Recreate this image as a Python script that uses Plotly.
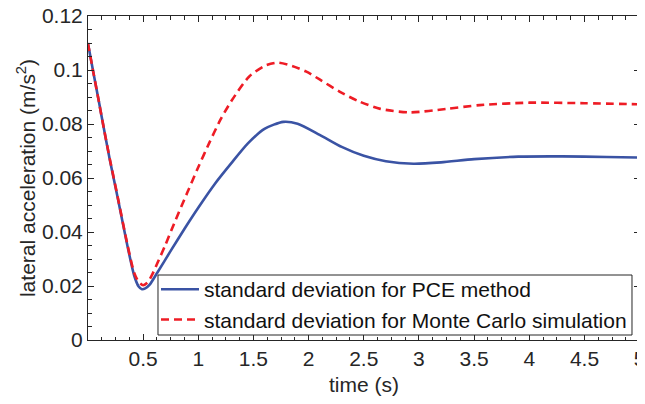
import plotly.graph_objects as go

# time (s)
t_pce = [0, 0.05, 0.1, 0.15, 0.2, 0.27, 0.36, 0.42, 0.46, 0.49, 0.52, 0.56, 0.63,
         0.75, 0.88, 1.0, 1.15, 1.3, 1.45, 1.6, 1.77, 1.9, 2.1, 2.3, 2.5, 2.7,
         2.95, 3.2, 3.5, 3.9, 4.3, 4.7, 5.0]
std_pce = [0.110, 0.0990, 0.0882, 0.0772, 0.0665, 0.0527, 0.0345, 0.0238, 0.0198,
           0.0188, 0.0191, 0.0205, 0.0250, 0.0330, 0.0415, 0.0490, 0.0578, 0.0655,
           0.0728, 0.0782, 0.0808, 0.0801, 0.0760, 0.0715, 0.0682, 0.0662, 0.0653,
           0.0658, 0.0670, 0.0679, 0.0680, 0.0678, 0.0676]

t_mc = [0, 0.05, 0.1, 0.15, 0.2, 0.27, 0.36, 0.42, 0.46, 0.50, 0.54, 0.58, 0.63,
        0.7, 0.78, 0.9, 1.0, 1.1, 1.2, 1.3, 1.46, 1.6, 1.72, 1.85, 1.98, 2.1, 2.28,
        2.45, 2.65, 2.92, 3.25, 3.55, 4.0, 4.5, 5.0]
std_mc = [0.110, 0.0990, 0.0882, 0.0772, 0.0668, 0.0530, 0.0350, 0.0248, 0.0215,
          0.0203, 0.0213, 0.0240, 0.0285, 0.0350, 0.0430, 0.0545, 0.0640, 0.0730,
          0.0815, 0.0885, 0.0975, 0.1015, 0.1027, 0.1015, 0.0994, 0.0965, 0.0920,
          0.0885, 0.0856, 0.0843, 0.0856, 0.0870, 0.0879, 0.0877, 0.0873]

x_ticks = [0.5, 1, 1.5, 2, 2.5, 3, 3.5, 4, 4.5, 5]
x_ticklabels = ["0.5", "1", "1.5", "2", "2.5", "3", "3.5", "4", "4.5", "5"]
y_ticks = [0, 0.02, 0.04, 0.06, 0.08, 0.1, 0.12]
y_ticklabels = ["0", "0.02", "0.04", "0.06", "0.08", "0.1", "0.12"]

AX = "#262626"
FONT = "Liberation Sans, Arial, sans-serif"

fig = go.Figure()
fig.add_trace(go.Scatter(x=t_pce, y=std_pce, mode="lines",
                         name="standard deviation for PCE method",
                         line=dict(color="#3A53A4", width=2.6, shape="spline", smoothing=0.7)))
fig.add_trace(go.Scatter(x=t_mc, y=std_mc, mode="lines",
                         name="standard deviation for Monte Carlo simulation",
                         line=dict(color="#EE1C25", width=2.6, dash="8px,5px",
                                   shape="spline", smoothing=0.7)))

axis_common = dict(showline=True, linecolor=AX, linewidth=1, mirror="ticks",
                   ticks="inside", ticklen=6, tickcolor=AX, tickwidth=1,
                   showgrid=False, zeroline=False, automargin=False,
                   ticklabeloverflow="allow",
                   tickfont=dict(family=FONT, size=21, color=AX))

fig.update_xaxes(range=[0.001, 5.003], tickmode="array", tickvals=x_ticks,
                 ticktext=x_ticklabels,
                 minor=dict(tick0=0, dtick=0.125, ticks="inside", ticklen=3.5,
                            tickcolor=AX, tickwidth=1),
                 title=dict(text="time (s)", font=dict(family=FONT, size=21, color=AX),
                            standoff=8),
                 **axis_common)
fig.update_yaxes(range=[0, 0.12], tickmode="array", tickvals=y_ticks,
                 ticktext=y_ticklabels,
                 minor=dict(tick0=0, dtick=0.005, ticks="inside", ticklen=3.5,
                            tickcolor=AX, tickwidth=1),
                 title=dict(text="lateral acceleration (m/s<sup>2</sup>)",
                            font=dict(family=FONT, size=21, color=AX), standoff=0),
                 **axis_common)

# legend frame (white box with dark border) drawn over the curves
fig.add_shape(type="rect", xref="paper", yref="paper",
              x0=0.1268, x1=0.9855, y0=0.0154, y1=0.2006,
              fillcolor="white", line=dict(color=AX, width=1), layer="above")

fig.update_layout(
    width=645, height=388,
    margin=dict(l=80, r=13, t=8, b=56),
    paper_bgcolor="white", plot_bgcolor="white",
    font=dict(family=FONT, size=21, color=AX),
    legend=dict(x=0.1232, y=0.219, xanchor="left", yanchor="top",
                bgcolor="rgba(0,0,0,0)", borderwidth=0,
                font=dict(family=FONT, size=21, color="#111111"),
                itemwidth=38, tracegroupgap=0),
    showlegend=True,
)

fig.write_html("out.html")
